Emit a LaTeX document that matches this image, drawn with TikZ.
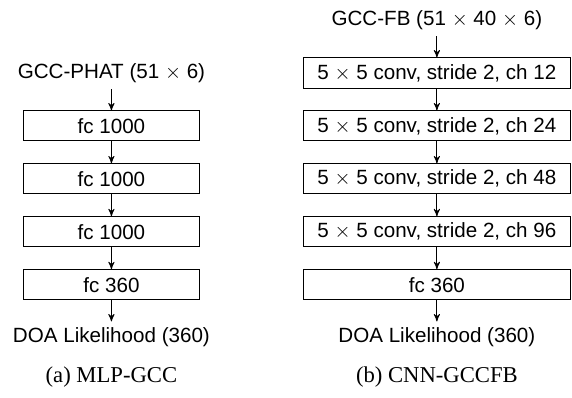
\documentclass[tikz,border=0pt]{standalone}
\usepackage{amsmath}
\usepackage{fontspec}
\setmainfont{Liberation Sans}
\newfontfamily\capfont{Liberation Serif}
\usepackage{tikz}
\usetikzlibrary{arrows}
\usetikzlibrary{positioning}
\tikzset{
    layer/.style = {draw, minimum height=14.6pt, inner sep=1pt, align=center},
    io/.style = {inner sep=3pt},
    subcap/.style = {font=\capfont\fontsize{11}{13}\selectfont},
}

\begin{document}
\begin{tikzpicture}[->,>=stealth',node distance=25.7pt,on grid]
\useasboundingbox (0,0) rectangle (277.7pt,-193.2pt);
% MLP-GCC
\node (phat) [io] at (54.1pt,-35.4pt) {GCC-PHAT (51 $\times$ 6)};
\node (fcA1) [layer,minimum width=85.9pt,below=of phat] {fc 1000};
\node (fcA2) [layer,minimum width=85.9pt,below=of fcA1] {fc 1000};
\node (fcA3) [layer,minimum width=85.9pt,below=of fcA2] {fc 1000};
\node (fcA4) [layer,minimum width=85.9pt,below=of fcA3] {fc 360};
\node (doaA) [io,below=of fcA4] {DOA Likelihood (360)};
\node (capA) [subcap,below=19pt of doaA] {(a) MLP-GCC};
\draw[->] (phat) to (fcA1);
\draw[->] (fcA1) to (fcA2);
\draw[->] (fcA2) to (fcA3);
\draw[->] (fcA3) to (fcA4);
\draw[->] (fcA4) to (doaA);
% CNN-GCCFB
\node (fb) [io] at (212.1pt,-9.7pt) {GCC-FB (51 $\times$ 40 $\times$ 6)};
\node (cvB1) [layer,minimum width=130pt,below=of fb] {5 $\times$ 5 conv, stride 2, ch 12};
\node (cvB2) [layer,minimum width=130pt,below=of cvB1] {5 $\times$ 5 conv, stride 2, ch 24};
\node (cvB3) [layer,minimum width=130pt,below=of cvB2] {5 $\times$ 5 conv, stride 2, ch 48};
\node (cvB4) [layer,minimum width=130pt,below=of cvB3] {5 $\times$ 5 conv, stride 2, ch 96};
\node (fcB) [layer,minimum width=130pt,below=of cvB4] {fc 360};
\node (doaB) [io,below=of fcB] {DOA Likelihood (360)};
\node (capB) [subcap,below=19pt of doaB] {(b) CNN-GCCFB};
\draw[->] (fb) to (cvB1);
\draw[->] (cvB1) to (cvB2);
\draw[->] (cvB2) to (cvB3);
\draw[->] (cvB3) to (cvB4);
\draw[->] (cvB4) to (fcB);
\draw[->] (fcB) to (doaB);
\end{tikzpicture}
\end{document}
